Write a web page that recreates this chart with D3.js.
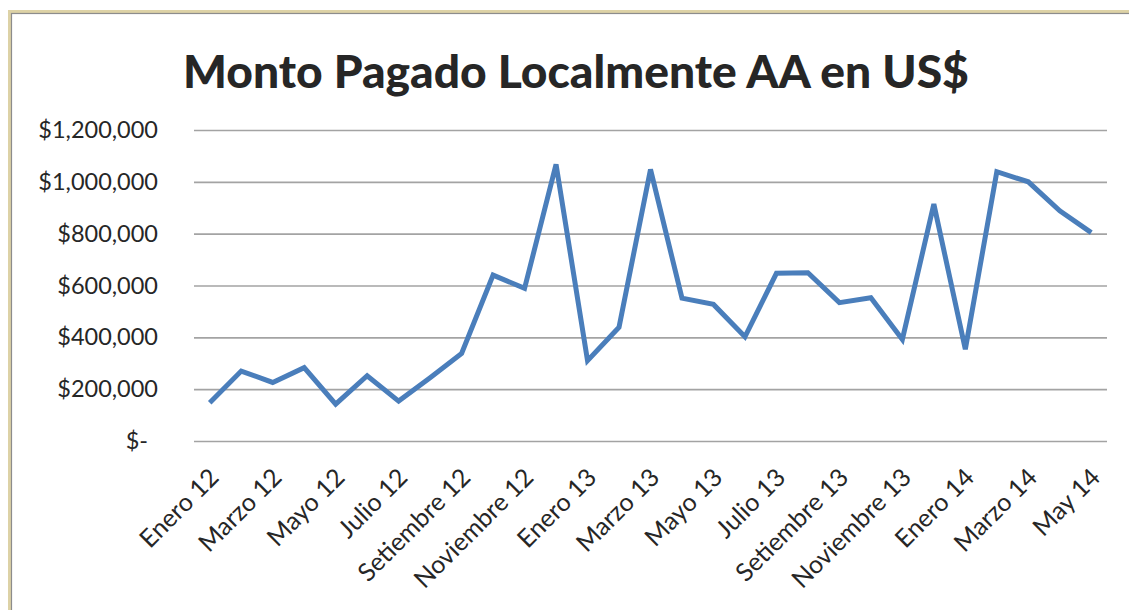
<!DOCTYPE html>
<html>
<head>
<meta charset="utf-8">
<script src="https://cdn.jsdelivr.net/npm/d3@7"></script>
<style>
  body { margin: 0; background: #fff; }
  text { font-family: Lato, "Open Sans", sans-serif; fill: #262626; }
</style>
</head>
<body>
<div id="chart"></div>
<script>
// monthly amounts, Enero 12 .. May 14
const months = [
  "Enero 12", "Febrero 12", "Marzo 12", "Abril 12", "Mayo 12", "Junio 12",
  "Julio 12", "Agosto 12", "Setiembre 12", "Octubre 12", "Noviembre 12", "Diciembre 12",
  "Enero 13", "Febrero 13", "Marzo 13", "Abril 13", "Mayo 13", "Junio 13",
  "Julio 13", "Agosto 13", "Setiembre 13", "Octubre 13", "Noviembre 13", "Diciembre 13",
  "Enero 14", "Febrero 14", "Marzo 14", "Abril 14", "May 14"
];
const amounts = [
  148000, 270000, 226000, 283000, 142000, 252000,
  154000, 244000, 338000, 640000, 589000, 1067000,
  310000, 439000, 1048000, 551000, 527000, 402000,
  647000, 649000, 534000, 553000, 392000, 914000,
  354000, 1039000, 1000000, 888000, 804000
];
const yTicks = [0, 200000, 400000, 600000, 800000, 1000000, 1200000];
const titleText = "Monto Pagado Localmente AA en US$";

const width = 1129, height = 610;
const plot = {left: 194, right: 1107, top: 130, bottom: 441};

const svg = d3.select("#chart").append("svg")
    .attr("width", width)
    .attr("height", height);

// chart frame (only top and left edges are visible)
svg.append("rect")
    .attr("x", 9.5).attr("y", 11.5)
    .attr("width", width + 20).attr("height", height + 20)
    .attr("fill", "none")
    .attr("stroke", "#ddd2a6")
    .attr("stroke-width", 3);
svg.append("rect")
    .attr("x", 11.5).attr("y", 13.5)
    .attr("width", width + 20).attr("height", height + 20)
    .attr("fill", "none")
    .attr("stroke", "#8c8c8c")
    .attr("stroke-width", 1.2);

const x = d3.scalePoint()
    .domain(months)
    .range([plot.left, plot.right])
    .padding(0.5);

const y = d3.scaleLinear()
    .domain([0, 1200000])
    .range([plot.bottom, plot.top]);

const money = d3.format("$,");

const yAxis = svg.append("g")
    .attr("transform", "translate(" + plot.left + ",0)")
    .call(d3.axisLeft(y)
        .tickValues(yTicks)
        .tickSize(-(plot.right - plot.left))
        .tickPadding(36)
        .tickFormat(d => d === 0 ? "$-" : money(d)));

yAxis.select(".domain").remove();
yAxis.selectAll(".tick line")
    .attr("stroke", "#a3a3a3")
    .attr("stroke-width", 1.6);
yAxis.selectAll(".tick text")
    .style("font-size", "23.5px")
    .attr("fill", "#262626")
    .attr("dx", d => d === 0 ? -10 : 0);

// every other month gets a label
const xAxis = svg.append("g")
    .attr("transform", "translate(0," + plot.bottom + ")")
    .call(d3.axisBottom(x)
        .tickValues(months.filter((m, i) => i % 2 === 0))
        .tickSize(0)
        .tickPadding(0));

xAxis.select(".domain").remove();
xAxis.selectAll(".tick text")
    .style("font-size", "25px")
    .attr("fill", "#1a1a1a")
    .attr("text-anchor", "end")
    .attr("dy", null)
    .attr("y", 0)
    .attr("transform", "translate(10,38) rotate(-45)");

const line = d3.line()
    .x((d, i) => x(months[i]))
    .y(d => y(d));

svg.append("path")
    .datum(amounts)
    .attr("fill", "none")
    .attr("stroke", "#4a7ebb")
    .attr("stroke-width", 5)
    .attr("stroke-linejoin", "miter")
    .attr("d", line);

const title = svg.append("text")
    .attr("x", 576)
    .attr("y", 88)
    .attr("text-anchor", "middle")
    .style("font-size", "44px")
    .style("font-weight", "900")
    .attr("fill", "#000")
    .text(titleText);

// fit title to the width it has in the original
const tw = title.node().getComputedTextLength();
title.style("font-size", (44 * 786 / tw) + "px");
</script>
</body>
</html>
